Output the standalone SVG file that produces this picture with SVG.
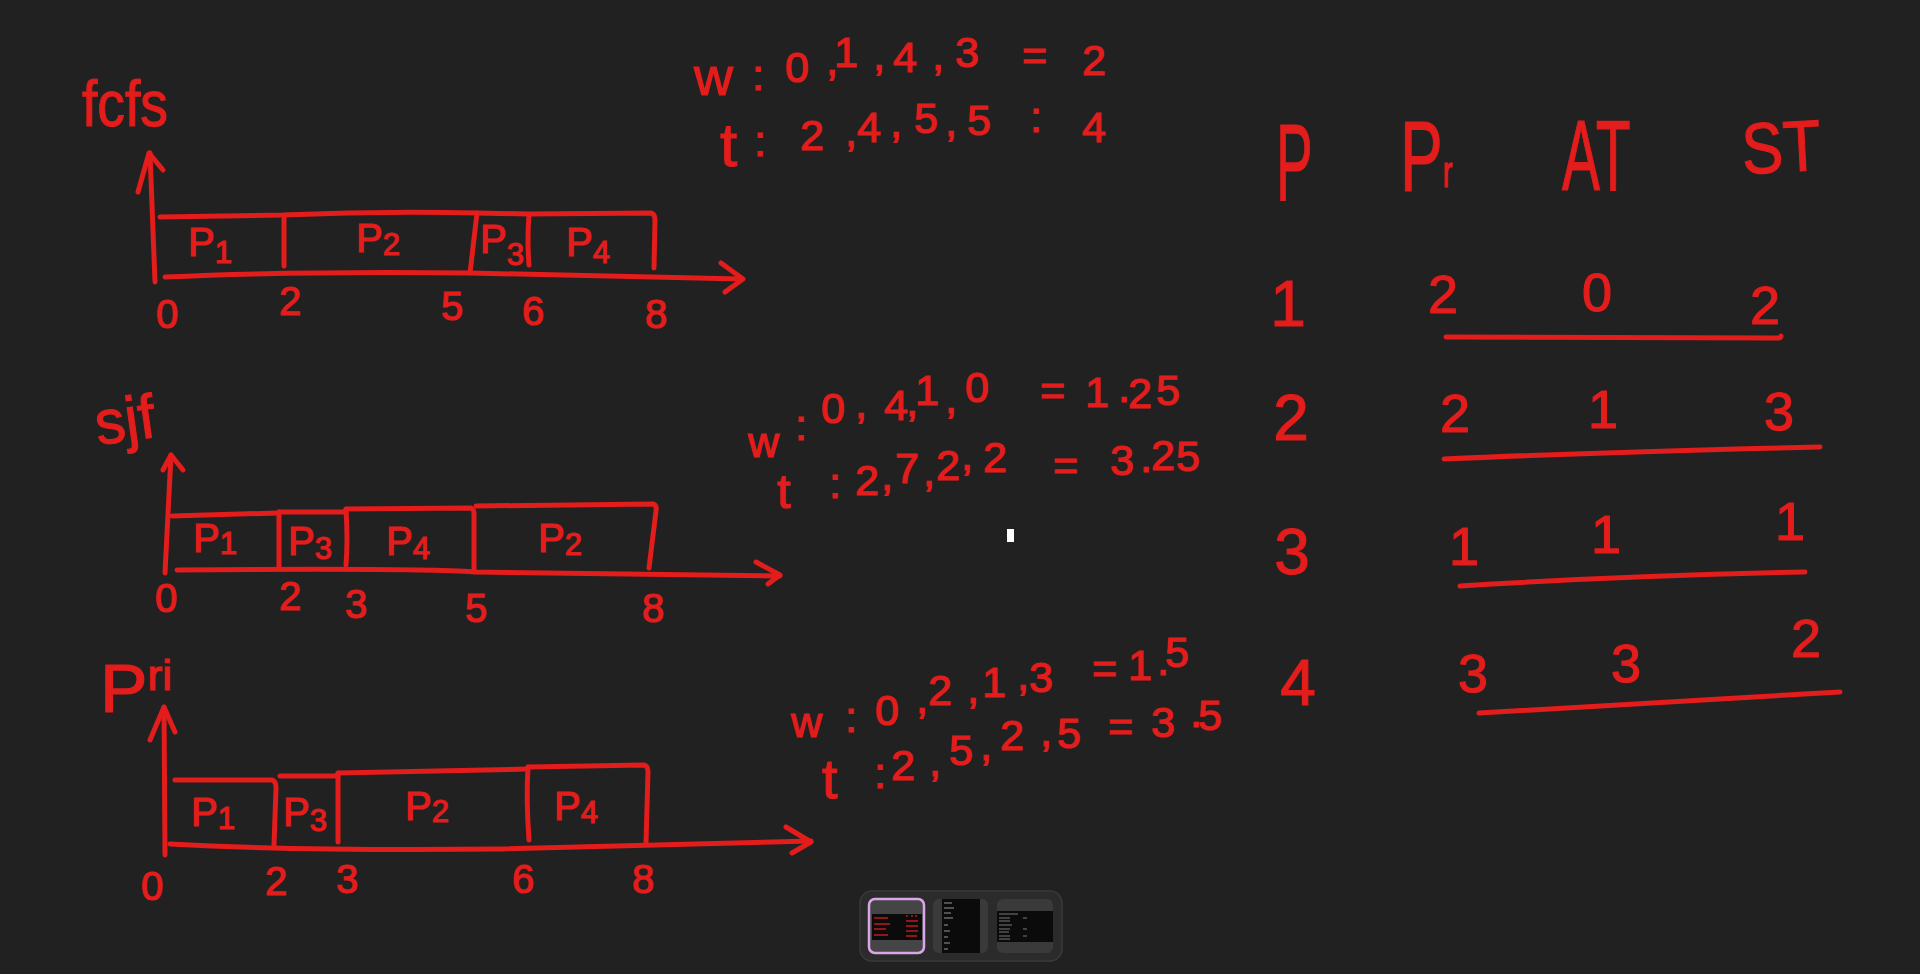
<svg xmlns="http://www.w3.org/2000/svg" width="1920" height="974" viewBox="0 0 1920 974">
<style>
.ink{fill:none;stroke:#e31c1c;stroke-width:5;stroke-linecap:round;stroke-linejoin:round}
text{font-family:"Liberation Sans","DejaVu Sans",sans-serif;fill:#e31c1c;stroke:#e31c1c;stroke-width:1.2}
.lbl{font-size:40px;text-anchor:middle}
.sub{font-size:31px}
.tick{font-size:40px;text-anchor:middle}
.stat{font-size:43px}
.num{font-size:54px;text-anchor:middle}
.pnum{font-size:64px;text-anchor:middle}
</style>
<rect x="0" y="0" width="1920" height="974" fill="#212121"/>

<g id="fcfs">
  <text x="82" y="126" font-size="64" textLength="86" lengthAdjust="spacingAndGlyphs">fcfs</text>
  <g id="fcfs-lines">
    <path class="ink" d="M155,282 L150,153"/>
    <path class="ink" d="M138,192 L149,153 L163,170"/>
    <path class="ink" d="M160,217 L283,215 Q380,211 477,213 L529,214 L651,213 Q655,214 655,220 L654,268"/>
    <path class="ink" d="M284,218 L284,266"/>
    <path class="ink" d="M477,213 L470,273"/>
    <path class="ink" d="M529,215 Q527,240 529,265"/>
    <path class="ink" d="M165,277 Q300,271 470,273 L741,279"/>
    <path class="ink" d="M721,263 L743,279 L725,292"/>
  </g>
  <text class="lbl" x="210" y="256">P<tspan class="sub" dy="7">1</tspan></text>
  <text class="lbl" x="378" y="252">P<tspan class="sub" dy="3">2</tspan></text>
  <text class="lbl" x="502" y="253">P<tspan class="sub" dy="12">3</tspan></text>
  <text class="lbl" x="588" y="256">P<tspan class="sub" dy="7">4</tspan></text>
  <text class="tick" x="167" y="328">0</text>
  <text class="tick" x="290" y="315">2</text>
  <text class="tick" x="452" y="320">5</text>
  <text class="tick" x="533" y="325">6</text>
  <text class="tick" x="656" y="328">8</text>
</g>

<g id="sjf">
  <text x="98" y="445" font-size="62" textLength="60" lengthAdjust="spacingAndGlyphs" transform="rotate(-8 98 445)">sjf</text>
  <g id="sjf-lines">
    <path class="ink" d="M165,573 L171,455"/>
    <path class="ink" d="M163,470 L171,455 L183,470"/>
    <path class="ink" d="M172,516 L278,513"/>
    <path class="ink" d="M279,512 L346,512"/>
    <path class="ink" d="M346,509 L471,508 Q474,509 474,514 L474,571"/>
    <path class="ink" d="M476,506 L653,504 Q657,505 656,511 L649,568"/>
    <path class="ink" d="M279,512 L279,567"/>
    <path class="ink" d="M346,509 Q348,540 346,565"/>
    <path class="ink" d="M177,570 Q420,568 474,572 L780,576"/>
    <path class="ink" d="M756,562 L780,575 L768,584"/>
  </g>
  <text class="lbl" x="215" y="552">P<tspan class="sub" dy="2">1</tspan></text>
  <text class="lbl" x="310" y="555">P<tspan class="sub" dy="4">3</tspan></text>
  <text class="lbl" x="408" y="555">P<tspan class="sub" dy="4">4</tspan></text>
  <text class="lbl" x="560" y="552">P<tspan class="sub" dy="3">2</tspan></text>
  <text class="tick" x="166" y="612">0</text>
  <text class="tick" x="290" y="610">2</text>
  <text class="tick" x="356" y="618">3</text>
  <text class="tick" x="476" y="622">5</text>
  <text class="tick" x="653" y="622">8</text>
</g>

<g id="pri">
  <text x="100" y="712" font-size="68" textLength="72" lengthAdjust="spacingAndGlyphs">P<tspan font-size="42" dy="-22">ri</tspan></text>
  <g id="pri-lines">
    <path class="ink" d="M165,855 L164,707"/>
    <path class="ink" d="M150,740 L164,707 L175,732"/>
    <path class="ink" d="M175,780 L272,780 Q276,781 276,788 L274,845"/>
    <path class="ink" d="M280,776 L338,776"/>
    <path class="ink" d="M338,773 L338,842"/>
    <path class="ink" d="M338,773 L528,769"/>
    <path class="ink" d="M528,767 Q526,800 529,840"/>
    <path class="ink" d="M528,767 L644,765 Q648,766 648,772 L646,843"/>
    <path class="ink" d="M170,844 Q300,851 500,849 L811,841"/>
    <path class="ink" d="M786,827 L811,842 L792,853"/>
  </g>
  <text class="lbl" x="213" y="826">P<tspan class="sub" dy="3">1</tspan></text>
  <text class="lbl" x="305" y="826">P<tspan class="sub" dy="5">3</tspan></text>
  <text class="lbl" x="427" y="820">P<tspan class="sub" dy="2">2</tspan></text>
  <text class="lbl" x="576" y="820">P<tspan class="sub" dy="3">4</tspan></text>
  <text class="tick" x="152" y="900">0</text>
  <text class="tick" x="276" y="895">2</text>
  <text class="tick" x="347" y="893">3</text>
  <text class="tick" x="523" y="893">6</text>
  <text class="tick" x="643" y="893">8</text>
</g>

<g id="stats-fcfs">
  <text class="stat" x="694 752 770 785 826 834 873 893 932 955 990 1022 1060 1082" y="95 90 90 82 75 67 70 72 70 67 70 70 72 75"><tspan font-size="54">w</tspan>: 0,1,4,3 = 2</text>
  <text class="stat" x="720 754 770 800 845 857 890 914 945 967 1000 1030 1050 1082" y="166 156 156 150 146 142 137 133 136 135 135 132 140 142"><tspan font-size="62">t</tspan>: 2,4,5,5 : 4</text>
</g>

<g id="stats-sjf">
  <text class="stat" x="748 795 810 821 855 884 906 915 945 965 1000 1040 1075 1085 1118 1128 1156" y="457 440 440 423 418 420 416 405 413 402 402 405 405 407 402 408 405">w: 0,4,1,0 = 1.25</text>
  <text class="stat" x="777 829 855 881 895 923 936 961 983 1020 1053 1090 1110 1140 1151 1176" y="508 498 495 490 483 486 480 470 472 478 480 478 475 472 470 471"><tspan font-size="48">t</tspan>:2,7,2,2 = 3.25</text>
</g>

<g id="stats-pri">
  <text class="stat" x="791 845 860 875 916 928 967 982 1017 1029 1065 1092 1125 1128 1157 1165" y="737 732 730 725 713 705 703 697 690 692 688 683 680 680 675 667">w: 0,2,1,3 = 1.5</text>
  <text class="stat" x="822 874 891 929 949 980 1000 1040 1057 1090 1108 1140 1151 1190 1198" y="798 788 780 776 765 760 750 746 748 745 741 740 737 727 730"><tspan font-size="56">t</tspan>:2,5,2,5 = 3.5</text>
</g>

<g id="table">
  <g id="table-header">
    <g transform="translate(1276,200) scale(0.5,1)"><text x="0" y="0" font-size="110">P</text></g>
    <g transform="translate(1400,191) scale(0.64,1)"><text x="0" y="0" font-size="100">P<tspan font-size="45" dy="-4">r</tspan></text></g>
    <g transform="translate(1562,190) scale(0.57,1)"><text x="0" y="0" font-size="100">AT</text></g>
    <g transform="translate(1743,174) rotate(-3) scale(0.86,1)"><text x="0" y="0" font-size="72">ST</text></g>
  </g>
  <g id="row-1">
    <text class="pnum" x="1288" y="326">1</text>
    <text class="num" x="1443" y="313">2</text>
    <text class="num" x="1597" y="311">0</text>
    <text class="num" x="1765" y="324">2</text>
    <path class="ink" d="M1446,337 L1778,338 Q1781,338 1781,336"/>
  </g>
  <g id="row-2">
    <text class="pnum" x="1291" y="440">2</text>
    <text class="num" x="1455" y="432">2</text>
    <text class="num" x="1603" y="428">1</text>
    <text class="num" x="1779" y="430">3</text>
    <path class="ink" d="M1444,459 Q1600,452 1820,447"/>
  </g>
  <g id="row-3">
    <text class="pnum" x="1292" y="574" font-size="74">3</text>
    <text class="num" x="1464" y="565">1</text>
    <text class="num" x="1606" y="553">1</text>
    <text class="num" x="1790" y="540">1</text>
    <path class="ink" d="M1460,586 Q1620,576 1805,572"/>
  </g>
  <g id="row-4">
    <text class="pnum" x="1298" y="705" font-size="72">4</text>
    <text class="num" x="1473" y="692" font-size="58">3</text>
    <text class="num" x="1626" y="682" font-size="58">3</text>
    <text class="num" x="1806" y="657" font-size="44">2</text>
    <path class="ink" d="M1479,713 Q1650,703 1840,692"/>
  </g>
</g>

<rect id="cursor" x="1007" y="529" width="7" height="13" fill="#ffffff"/>

<g id="thumbnails">
  <rect x="860" y="891" width="202" height="70" rx="12" fill="#2b2b2b" stroke="#3a3a3a" stroke-width="1.5"/>
  <g id="thumb-1">
    <rect x="869" y="899" width="55" height="54" rx="6" fill="#454545" stroke="#dba6e8" stroke-width="2.5"/>
    <rect x="872" y="914" width="50" height="26" fill="#0b0b0b"/>
    <g stroke="#c41a1a" stroke-width="1.5">
      <path d="M874,918 L888,918 M874,924 L890,924 M874,929 L886,929 M874,935 L888,935"/>
      <path d="M906,916 L908,916 M911,916 L913,916 M915,916 L917,916 M906,921 L918,921 M906,926 L918,926 M906,931 L918,931 M906,936 L917,936"/>
    </g>
  </g>
  <g id="thumb-2">
    <rect x="933" y="899" width="55" height="54" rx="6" fill="#3a3a3a"/>
    <rect x="942" y="899" width="38" height="54" fill="#0b0b0b"/>
    <g stroke="#6a6a6a" stroke-width="1.3">
      <path d="M944,903 L952,903 M944,908 L954,908 M944,913 L951,913 M944,918 L953,918 M944,925 L948,925 M944,931 L950,931 M944,937 L948,937 M944,943 L950,943 M944,949 L948,949"/>
    </g>
  </g>
  <g id="thumb-3">
    <rect x="997" y="899" width="56" height="54" rx="6" fill="#3a3a3a"/>
    <rect x="997" y="911" width="56" height="31" fill="#0b0b0b"/>
    <g stroke="#7a7a7a" stroke-width="1">
      <path d="M999,914 L1018,914 M999,918 L1010,918 M1023,918 L1027,918 M999,921 L1010,921 M999,925 L1012,925 M999,929 L1010,929 M1023,929 L1027,929 M999,932 L1009,932 M999,936 L1010,936 M1023,936 L1027,936 M999,939 L1010,939"/>
    </g>
  </g>
</g>
</svg>
